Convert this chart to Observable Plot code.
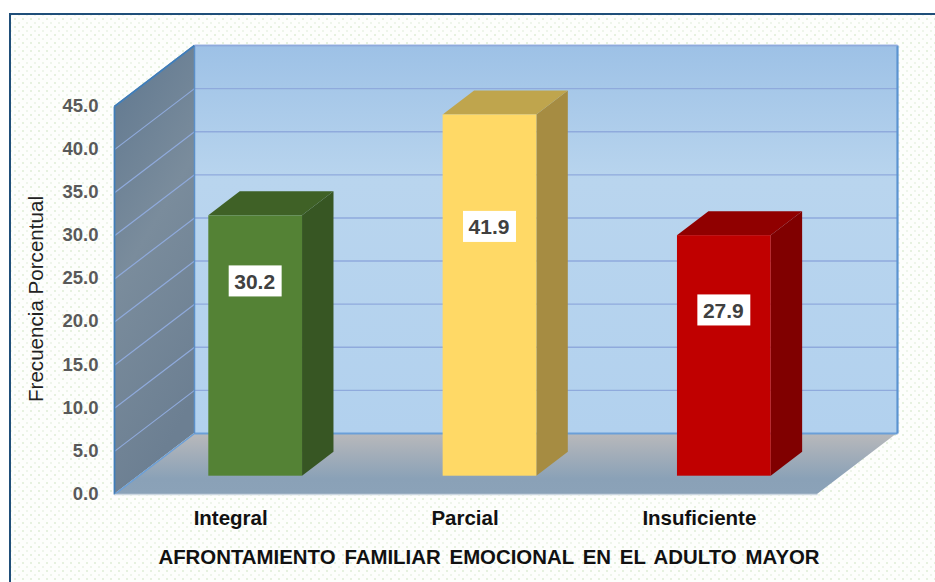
<!DOCTYPE html>
<html>
<head>
<meta charset="utf-8">
<script src="https://cdn.jsdelivr.net/npm/d3@7"></script>
<script src="https://cdn.jsdelivr.net/npm/@observablehq/plot@0.6"></script>
<style>
  html, body { margin: 0; padding: 0; background: #fff; width: 935px; height: 582px; overflow: hidden; }
  #panel {
    position: absolute; left: 9px; top: 13px; right: 0; bottom: 0;
    box-sizing: border-box;
    border-left: 2.5px solid #1f4e79; border-top: 2.5px solid #1f4e79;
    background-color: #fdfefc;
    background-image:
      radial-gradient(circle, #e6f1df 1.1px, transparent 1.4px),
      radial-gradient(circle, #eef5ea 1.1px, transparent 1.4px);
    background-size: 8px 8px, 8px 8px;
    background-position: 0 0, 4px 4px;
  }
  #chart { position: absolute; left: 0; top: 0; }
  svg { display: block; }
  .x-title text, text.x-title, .x-title { word-spacing: 3.2px; }
</style>
</head>
<body>
<div id="panel"></div>
<div id="chart"></div>
<script>
// Data
const categories = ["Integral", "Parcial", "Insuficiente"];
const percentages = [30.2, 41.9, 27.9];
const yTicks = [0, 5, 10, 15, 20, 25, 30, 35, 40, 45];
const faceColors = ["#548235", "#FFD966", "#C00000"];
const topColors = ["#3F6126", "#BFA54D", "#900000"];
const sideColors = ["#375623", "#A68C42", "#800000"];
const xTitle = "AFRONTAMIENTO FAMILIAR EMOCIONAL EN EL ADULTO MAYOR";
const yTitle = "Frecuencia Porcentual";

// Layout of the fake 3D box, in scale units
const yMax = 45, nCat = 3;
const depthX = 0.3414, depthY = 7.075;   // shift from front to back of the box
const barFront = 0.30, barBack = 0.693;  // bar depth, as a share of the box depth
const barWidth = 0.40;
const labelLift = [0.748, 0.69, 0.689];  // height of each value label, share of bar
const boxW = 0.113, boxH = 1.8;          // half-size of white label box

const px = (x, d) => x + d * depthX;     // projected x at depth d
const py = (v, d) => v + d * depthY;     // projected y at depth d

const rows = categories.map((name, i) => ({
  name, value: percentages[i], i,
  left: i + 0.5 - barWidth / 2, right: i + 0.5 + barWidth / 2,
  face: faceColors[i], top: topColors[i], side: sideColors[i],
  lift: labelLift[i]
}));
const depths = [0, 1];
const barDepths = [barFront, barBack];

const defs = () => {
  const s = d3.create("svg:defs");
  const grad = (id, x2, y2, stops) => {
    const g = s.append("linearGradient").attr("id", id)
      .attr("x1", 0).attr("y1", 0).attr("x2", x2).attr("y2", y2);
    stops.forEach(([o, c]) => g.append("stop").attr("offset", o).attr("stop-color", c));
  };
  grad("wallBack", 0, 1, [[0, "#9DC1E6"], [0.35, "#B9D5EE"], [1, "#B2D1EE"]]);
  grad("wallSide", 0.3, 1, [[0, "#5F778F"], [0.5, "#7A8C9C"], [1, "#6C7F92"]]);
  grad("floor", 0, 1, [[0, "#B9B9BB"], [0.75, "#8AA1B7"], [1, "#8BA2B8"]]);
  return s.node();
};

// One parallelogram for each bar side or top, built from its value
const sidePts = r => barDepths.map(d => ({
  x: px(r.right, d), y1: py(0, d), y2: py(r.value, d), fill: r.side
}));
const topPts = r => barDepths.map(d => ({
  y: py(r.value, d), x1: px(r.left, d), x2: px(r.right, d), fill: r.top
}));

const chart = Plot.plot({
  width: 935, height: 582,
  marginLeft: 114, marginRight: 118, marginTop: 106, marginBottom: 88,
  style: { background: "transparent", fontFamily: "'Liberation Sans', Arial, sans-serif" },
  x: { domain: [0, nCat], axis: null },
  y: { domain: [0, yMax], axis: null },
  marks: [
    defs,
    // back wall
    Plot.rect([0], {
      x1: px(0, 1), x2: px(nCat, 1), y1: py(0, 1), y2: py(yMax, 1), fill: "url(#wallBack)"
    }),
    // side wall
    Plot.areaY(depths, {
      x: d => px(0, d), y1: d => py(0, d), y2: d => py(yMax, d), fill: "url(#wallSide)"
    }),
    // floor
    Plot.areaX(depths, {
      y: d => py(0, d), x1: d => px(0, d), x2: d => px(nCat, d), fill: "url(#floor)"
    }),
    // grid on both walls
    Plot.link(yTicks.slice(1), {
      x1: px(0, 1), x2: px(nCat, 1), y1: v => py(v, 1), y2: v => py(v, 1),
      stroke: "#8FAADC", strokeWidth: 1.4
    }),
    Plot.link(yTicks.slice(1), {
      x1: px(0, 0), x2: px(0, 1), y1: v => py(v, 0), y2: v => py(v, 1),
      stroke: "#8FAADC", strokeWidth: 1.2
    }),
    // box edges
    Plot.link([0], { x1: px(0, 1), x2: px(nCat, 1), y1: py(0, 1), y2: py(0, 1), stroke: "#6A9FD8", strokeWidth: 2 }),
    Plot.link([0], { x1: px(0, 0), x2: px(0, 1), y1: py(0, 0), y2: py(0, 1), stroke: "#6A9FD8", strokeWidth: 1.5 }),
    Plot.link([0], { x1: px(0, 1), x2: px(0, 1), y1: py(0, 1), y2: py(yMax, 1), stroke: "#5B8FC8", strokeWidth: 1.5 }),
    Plot.link([0], { x1: px(nCat, 1), x2: px(nCat, 1), y1: py(0, 1), y2: py(yMax, 1), stroke: "#5B93D0", strokeWidth: 2.2 }),
    Plot.link([0], { x1: px(0, 0), x2: px(0, 0), y1: py(0, 0), y2: py(yMax, 0), stroke: "#3F7DB8", strokeWidth: 1.8 }),
    Plot.link([0], { x1: px(0, 0), x2: px(0, 1), y1: py(yMax, 0), y2: py(yMax, 1), stroke: "#3F7DB8", strokeWidth: 1.8 }),
    Plot.link([0], { x1: px(0, 1), x2: px(nCat, 1), y1: py(yMax, 1), y2: py(yMax, 1), stroke: "#8FAADC", strokeWidth: 1.5 }),
    Plot.link([0], { x1: px(0, 0), x2: px(nCat, 0), y1: py(0, 0), y2: py(0, 0), stroke: "#CBD6E0", strokeWidth: 1.5 }),
    // bars: side, top and front faces
    ...rows.map(r => Plot.areaY(sidePts(r), { x: "x", y1: "y1", y2: "y2", fill: r.side })),
    ...rows.map(r => Plot.areaX(topPts(r), { y: "y", x1: "x1", x2: "x2", fill: r.top })),
    Plot.rect(rows, {
      x1: r => px(r.left, barFront), x2: r => px(r.right, barFront),
      y1: py(0, barFront), y2: r => py(r.value, barFront), fill: "face"
    }),
    // value labels
    Plot.rect(rows, {
      x1: r => px(r.i + 0.5, barFront) - boxW, x2: r => px(r.i + 0.5, barFront) + boxW,
      y1: r => py(r.value * r.lift, barFront) - boxH, y2: r => py(r.value * r.lift, barFront) + boxH,
      fill: "white"
    }),
    Plot.text(rows, {
      x: r => px(r.i + 0.5, barFront), y: r => py(r.value * r.lift, barFront),
      text: r => r.value.toFixed(1), fontSize: 21, fontWeight: 700, fill: "#404040", dx: -1, dy: 0.5
    }),
    // axes
    Plot.axisY({
      ticks: yTicks, tickSize: 0, tickPadding: 16, label: null,
      tickFormat: d => d.toFixed(1), fontSize: 18.5, fontWeight: 700, color: "#595959", stroke: "none", dy: -0.5
    }),
    Plot.axisX({
      ticks: categories.map((c, i) => i + 0.5), tickSize: 0, tickPadding: 16, label: null,
      tickFormat: d => categories[Math.floor(d)], fontSize: 20.5, fontWeight: 700, color: "#111", stroke: "none", dx: -1
    }),
    // axis titles
    Plot.text([yTitle], {
      frameAnchor: "left", textAnchor: "middle", rotate: -90, text: d => d, dx: -78, dy: -1.5,
      fontSize: 20.6, fill: "#222"
    }),
    Plot.text([xTitle], {
      frameAnchor: "bottom", text: d => d, dx: 23, dy: 69, className: "x-title",
      fontSize: 20.4, fontWeight: 700, fill: "#111"
    })
  ]
});
document.getElementById("chart").appendChild(chart);
</script>
</body>
</html>
